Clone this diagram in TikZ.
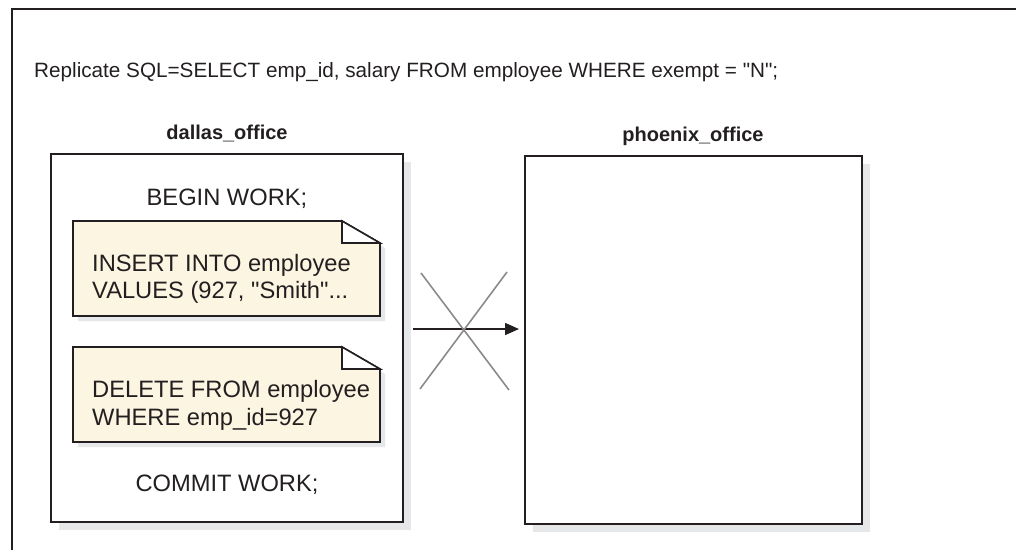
\documentclass[tikz,border=0pt]{standalone}
\usepackage{fontspec}
\setmainfont{Liberation Sans}
\newfontfamily\qfont{Liberation Sans}
\usetikzlibrary{arrows.meta,shadows}
\definecolor{linec}{HTML}{231F20}
\definecolor{shadowc}{HTML}{E6E7E8}
\definecolor{notefill}{HTML}{FCF5E2}
\definecolor{crossc}{HTML}{8A8A8A}
\newcommand{\dq}{{\qfont\symbol{34}}}
\tikzset{
  dbbox/.style={draw=linec, line width=2pt, fill=white, inner sep=0pt,
    drop shadow={shadow xshift=8pt, shadow yshift=-8pt, fill=shadowc, opacity=1}},
  bodytext/.style={text=linec, inner sep=0pt, font=\fontsize{23.7}{28}\selectfont},
  toptext/.style={text=linec, inner sep=0pt, font=\fontsize{20.7}{24}\selectfont},
  titletext/.style={text=linec, inner sep=0pt, font=\fontsize{20}{24}\selectfont\bfseries},
  crossline/.style={draw=crossc, line width=1.6pt},
  flowarrow/.style={draw=linec, line width=1.6pt, -{Triangle[length=14pt,width=12pt]}},
  pics/dognote/.style={code={
    \fill[shadowc] (5,5) -- (274,5) -- (312,27) -- (312,100) -- (5,100) -- cycle;
    \filldraw[fill=notefill, draw=linec, line width=1.6pt, line join=miter]
      (0,0) -- (269,0) -- (307,22) -- (307,95) -- (0,95) -- cycle;
    \filldraw[fill=white, draw=linec, line width=1.6pt, line join=miter]
      (269,0) -- (269,22) -- (307,22) -- cycle;
  }}
}
\begin{document}
\begin{tikzpicture}[x=1pt,y=-1pt]
\useasboundingbox (0,0) rectangle (1016,550);
% outer frame
\draw[draw=linec, line width=1.5pt] (12,550) -- (12,9) -- (1016,9);
% top text
\node[toptext, anchor=base west] (repl) at (34,77) {Replicate SQL=SELECT emp\_id, salary FROM employee WHERE exempt = \dq N\dq;};
% titles
\node[titletext, anchor=base] (dtitle) at (227,139) {dallas\_office};
\node[titletext, anchor=base] (ptitle) at (693,141) {phoenix\_office};
% boxes
\node[dbbox, minimum width=352pt, minimum height=368pt] (dallas) at (227,338) {};
\node[dbbox, minimum width=337pt, minimum height=368pt] (phoenix) at (693,340) {};
% statements
\node[bodytext, anchor=base] (begin) at (227,205) {BEGIN WORK;};
\pic at (73,221) {dognote};
\node[bodytext, anchor=base west] (ins1) at (92,271) {INSERT INTO employee};
\node[bodytext, anchor=base west] (ins2) at (92,298) {VALUES (927, \dq Smith\dq...};
\pic at (73,347) {dognote};
\node[bodytext, anchor=base west] (del1) at (92,397) {DELETE FROM employee};
\node[bodytext, anchor=base west] (del2) at (92,425) {WHERE emp\_id=927};
\node[bodytext, anchor=base] (commit) at (227,491) {COMMIT WORK;};
% replication arrow, crossed out
\coordinate (src) at (413,329);
\coordinate (dst) at (519,329);
\draw[flowarrow] (src) -- (dst);
\coordinate (x1a) at (421,273);
\coordinate (x1b) at (509,390);
\coordinate (x2a) at (507,272);
\coordinate (x2b) at (420,389);
\draw[crossline] (x1a) -- (x1b);
\draw[crossline] (x2a) -- (x2b);
\end{tikzpicture}
\end{document}
